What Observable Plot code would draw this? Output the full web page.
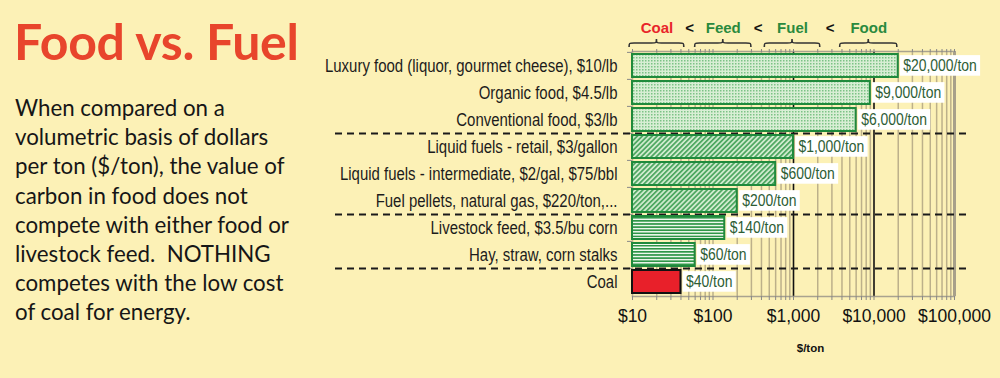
<!DOCTYPE html>
<html>
<head>
<meta charset="utf-8">
<script src="https://cdn.jsdelivr.net/npm/d3@7"></script>
<script src="https://cdn.jsdelivr.net/npm/@observablehq/plot@0.6"></script>
<style>
  html, body { margin: 0; padding: 0; background: #fcf1b6; }
  #wrap { position: relative; width: 1000px; height: 378px; overflow: hidden; background: #fcf1b6; }
  #title { position: absolute; left: 14px; top: 11px; font-family: Lato, "Open Sans", sans-serif; font-weight: 700; font-size: 50px; line-height: 60px; color: #e8452c; white-space: nowrap; letter-spacing: -0.3px; }
  #body { position: absolute; left: 15px; top: 93px; font-family: Lato, "Open Sans", sans-serif; font-size: 22.3px; line-height: 29.2px; color: #161616; white-space: nowrap; }
  #chart { position: absolute; left: 0; top: 0; }
</style>
</head>
<body>
<svg width="0" height="0" style="position:absolute">
  <defs>
    <pattern id="dots" width="3" height="3" patternUnits="userSpaceOnUse">
      <rect width="3" height="3" fill="#d8eed4"/>
      <rect width="1.5" height="1.5" fill="#7cc386"/>
    </pattern>
    <pattern id="diag" width="3.5" height="3.5" patternUnits="userSpaceOnUse" patternTransform="rotate(45)">
      <rect width="3.5" height="3.5" fill="#d2ecd0"/>
      <rect width="1.8" height="3.5" fill="#4fa862"/>
    </pattern>
    <pattern id="horiz" width="4" height="3.1" patternUnits="userSpaceOnUse">
      <rect width="4" height="3.1" fill="#f4fbf2"/>
      <rect width="4" height="1.6" fill="#2f9648"/>
    </pattern>
  </defs>
</svg>
<div id="wrap">
  <div id="title">Food vs. Fuel</div>
  <div id="body">When compared on a<br>volumetric basis of dollars<br>per ton ($/ton), the value of<br>carbon in food does not<br>compete with either food or<br>livestock feed.&nbsp; NOTHING<br>competes with the low cost<br>of coal for energy.</div>
  <div id="chart"></div>
</div>
<script>
// ---- data ----
const categories = [
  "Luxury food (liquor, gourmet cheese), $10/lb",
  "Organic food, $4.5/lb",
  "Conventional food, $3/lb",
  "Liquid fuels - retail, $3/gallon",
  "Liquid fuels - intermediate, $2/gal, $75/bbl",
  "Fuel pellets, natural gas, $220/ton,...",
  "Livestock feed, $3.5/bu corn",
  "Hay, straw, corn stalks",
  "Coal"
];
const values = [20000, 9000, 6000, 1000, 600, 200, 140, 60, 40];
const groups = ["Food", "Food", "Food", "Fuel", "Fuel", "Fuel", "Feed", "Feed", "Coal"];
const valueLabels = ["$20,000/ton", "$9,000/ton", "$6,000/ton", "$1,000/ton", "$600/ton", "$200/ton", "$140/ton", "$60/ton", "$40/ton"];

const braceNames = ["Coal", "Feed", "Fuel", "Food"];
const braceLo = [9.2, 60, 440, 3800];
const braceHi = [44, 300, 2150, 19500];
const braceColors = ["#e8262a", "#2a8a3e", "#2a8a3e", "#2a8a3e"];

const majorTicks = [10, 100, 1000, 10000, 100000];
const majorTickLabels = ["$10", "$100", "$1,000", "$10,000", "$100,000"];
const axisTitle = "$/ton";

// ---- derived tables ----
const rows = categories.map((c, i) => ({cat: c, value: values[i], group: groups[i], label: valueLabels[i]}));
const minorTicks = [];
for (let d = 10; d < 100000; d *= 10) for (let k = 1; k < 10; k++) minorTicks.push(d * k);
minorTicks.push(100000);
const darkGrid = [1000, 10000];
const braces = braceNames.map((n, i) => ({name: n, lo: braceLo[i], hi: braceHi[i], mid: Math.sqrt(braceLo[i] * braceHi[i]), color: braceColors[i]}));
const lts = braces.slice(1).map((b, i) => ({mid: Math.sqrt(braces[i].hi * b.lo)}));
const boundaries = categories.filter((c, i) => i > 0 && groups[i] !== groups[i - 1]);

const W = 1000, H = 378, mT = 51, mB = 82, mL = 632, mR = 46;
const step = (H - mT - mB) / categories.length;
const fontSans = '"Liberation Sans", Arial, sans-serif';
const green = "#1f8a3c";

function braceMark(index, scales, values, dims) {
  const g = d3.create("svg:g");
  const yb = dims.marginTop - 4, yc = yb - 4, yt = yb - 8;
  for (const b of braces) {
    const x0 = scales.x(b.lo), x1 = scales.x(b.hi), m = (x0 + x1) / 2;
    const p = `M${x0},${yb} C${x0},${yc} ${x0},${yc} ${x0 + 5},${yc} L${m - 5},${yc} C${m},${yc} ${m},${yc} ${m},${yt} C${m},${yc} ${m},${yc} ${m + 5},${yc} L${x1 - 5},${yc} C${x1},${yc} ${x1},${yc} ${x1},${yb}`;
    g.append("path").attr("d", p).attr("fill", "none").attr("stroke", "#333").attr("stroke-width", 1.6);
  }
  return g.node();
}

const barOpts = (fill, stroke) => ({x1: 10, x2: "value", y: "cat", fill, stroke, strokeWidth: 2});

const plot = Plot.plot({
  width: W, height: H,
  marginTop: mT, marginBottom: mB, marginLeft: mL, marginRight: mR,
  style: {background: "transparent", fontFamily: fontSans, color: "#1a1a1a"},
  x: {type: "log", domain: [10, 100000], axis: null},
  y: {domain: categories, paddingInner: 0.15, paddingOuter: 0.075, axis: null},
  marks: [
    Plot.ruleX(minorTicks.filter(d => !darkGrid.includes(d) && d !== 100000), {stroke: "#bcb08a", strokeWidth: 1.5}),
    Plot.ruleX([100000], {stroke: "#a8a08a", strokeWidth: 3}),
    Plot.ruleX(darkGrid, {stroke: "#111", strokeWidth: 1.6}),
    Plot.frame({anchor: "top", stroke: "#a9a38f", strokeWidth: 1.5}),
    Plot.frame({anchor: "bottom", stroke: "#a9a38f", strokeWidth: 1.5}),
    Plot.axisX({anchor: "top", ticks: minorTicks, tickSize: 3, tickFormat: () => "", stroke: "#888", label: null}),
    Plot.axisX({anchor: "bottom", ticks: minorTicks, tickSize: 4, tickFormat: () => "", stroke: "#888", label: null}),
    Plot.axisX({anchor: "bottom", ticks: majorTicks, tickSize: 0, tickPadding: 13, tickFormat: (d) => majorTickLabels[majorTicks.indexOf(d)], fontSize: 17.5, fill: "#111", label: null}),
    Plot.text([axisTitle], {frameAnchor: "bottom", lineAnchor: "middle", dy: 52, dx: 17, fontWeight: "bold", fontSize: 11.5, fill: "#111"}),
    Plot.axisY({tickSize: 0, tickPadding: 15, fontSize: 17.5, fill: "#1c1c1c", label: null}),
    Plot.ruleY(categories.concat([null]).slice(0, categories.length), {y: d => d, x1: 10, x2: 10, dy: -step / 2, insetLeft: -5, stroke: "#888", strokeWidth: 1}),
    Plot.ruleY(boundaries, {y: d => d, dy: -step / 2, stroke: "#1a1a1a", strokeWidth: 2, strokeDasharray: "7,5", insetLeft: -297, insetRight: -12}),
    Plot.barX(rows.filter(d => d.group === "Food"), barOpts("url(#dots)", green)),
    Plot.barX(rows.filter(d => d.group === "Fuel"), barOpts("url(#diag)", green)),
    Plot.barX(rows.filter(d => d.group === "Feed"), barOpts("url(#horiz)", green)),
    Plot.barX(rows.filter(d => d.group === "Coal"), barOpts("#e8202a", "#111")),
    Plot.text(rows, {x: "value", y: "cat", text: "label", textAnchor: "start", dx: 5, fontSize: 17, fill: "#2d5d35", className: "vlabel"}),
    braceMark,
    Plot.text(braces, {x: "mid", text: "name", frameAnchor: "top", lineAnchor: "middle", dy: -23, fill: "color", fontWeight: "bold", fontSize: 15}),
    Plot.text(lts, {x: "mid", text: () => "<", frameAnchor: "top", lineAnchor: "middle", dy: -23, fill: "#111", fontWeight: "bold", fontSize: 15})
  ]
});
document.getElementById("chart").appendChild(plot);

// condense text horizontally (Arial Narrow look) around its anchor point
function condense(sel, k) {
  sel.each(function () {
    const ax = +(this.getAttribute("x") || 0);
    const t = this.getAttribute("transform") || "";
    this.setAttribute("transform", `${t} translate(${ax},0) scale(${k},1) translate(${-ax},0)`);
  });
}
condense(d3.select(plot).selectAll('g[aria-label="y-axis tick label"] text'), 0.855);
condense(d3.select(plot).selectAll("g.vlabel text"), 0.82);

// white boxes behind value labels
d3.select(plot).selectAll("g.vlabel text").each(function () {
  const bb = this.getBBox();
  const t = this.getAttribute("transform");
  d3.select(this.parentNode).insert("rect", () => this)
    .attr("transform", t)
    .attr("x", bb.x - 4).attr("y", bb.y - 1)
    .attr("width", bb.width + 8).attr("height", bb.height + 2)
    .attr("fill", "#ffffff");
});
</script>
</body>
</html>
